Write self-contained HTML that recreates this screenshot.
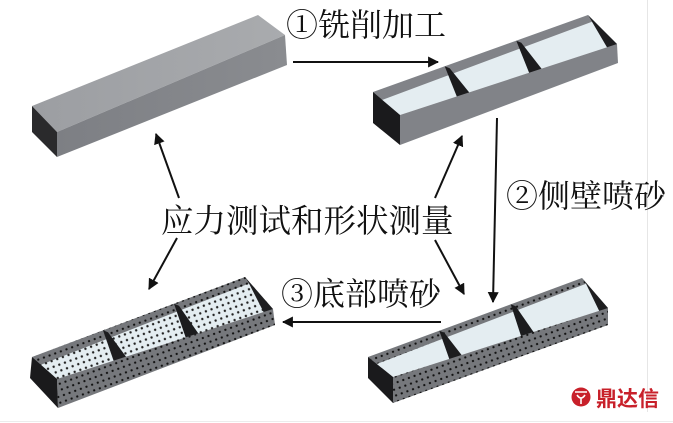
<!DOCTYPE html>
<html><head><meta charset="utf-8">
<style>
html,body{margin:0;padding:0;background:#fff;}
svg{display:block;}
text{font-family:"Liberation Serif","Noto Serif CJK SC",serif;fill:#111;}
</style></head>
<body>
<svg id="s" width="673" height="423" viewBox="0 0 673 423" xmlns="http://www.w3.org/2000/svg">
<defs>
<linearGradient id="topg" x1="0" y1="0" x2="1" y2="0">
<stop offset="0" stop-color="#9c9ea2"/><stop offset="1" stop-color="#a9abae"/></linearGradient>
<linearGradient id="frontg" x1="0" y1="0" x2="1" y2="0">
<stop offset="0" stop-color="#7d7f84"/><stop offset="1" stop-color="#8a8c90"/></linearGradient>
<pattern id="holes" width="6" height="6" patternUnits="userSpaceOnUse" patternTransform="rotate(-20)">
<circle cx="3" cy="3" r="1.15" fill="#111"/></pattern>
<pattern id="holes2" width="6" height="6" patternUnits="userSpaceOnUse" patternTransform="rotate(-20)">
<circle cx="3" cy="3" r="1.2" fill="#222"/></pattern>
<marker id="ah" viewBox="0 0 10 10" refX="9" refY="5" markerWidth="5.5" markerHeight="5.5" orient="auto">
<path d="M0,0 L10,5 L0,10 z" fill="#111"/></marker>
</defs>

<line x1="647.5" y1="0" x2="647.5" y2="412" stroke="#e6e6e6" stroke-width="1"/>
<line x1="0" y1="421.5" x2="673" y2="421.5" stroke="#ececec" stroke-width="1"/>

<polygon points="32,106 258,15 285,35 57,132" fill="url(#topg)"/>
<polygon points="57,132 285,35 287,65 57,157" fill="url(#frontg)"/>
<polygon points="32,106 57,132 57,157 32,132" fill="#2a2a2c"/>

<g id="trays"></g>

<g stroke="#111" stroke-width="2" fill="none" marker-end="url(#ah)">
<line x1="293" y1="62" x2="438" y2="62"/>
<line x1="497" y1="118" x2="493" y2="302"/>
<line x1="441" y1="322" x2="283" y2="322"/>
<line x1="179" y1="198" x2="156" y2="134"/>
<line x1="177" y1="238" x2="149" y2="289"/>
<line x1="435" y1="198" x2="462" y2="136"/>
<line x1="435" y1="240" x2="464" y2="294"/>
</g>

<text x="286" y="36" font-size="32">①铣削加工</text>
<text x="506" y="207" font-size="32">②侧壁喷砂</text>
<text x="281" y="305" font-size="32">③底部喷砂</text>
<text x="161" y="232" font-size="32.5">应力测试和形状测量</text>

<circle cx="581" cy="397" r="9.5" fill="#c8202a"/>
<path d="M575,392 h12 M577,395 q4,6 8,0 M581,398 v6" stroke="#fff" stroke-width="1.6" fill="none"/>
<text x="596" y="406" font-size="21" font-weight="bold" style="fill:#c8202a;font-family:'Noto Sans CJK SC',sans-serif">鼎达信</text>
</svg>
<script>
(function(){
var NS="http://www.w3.org/2000/svg",g=document.getElementById("trays");
function P(pts){return pts.map(function(p){return p[0].toFixed(1)+","+p[1].toFixed(1)}).join(" ");}
function poly(pts,fill){var e=document.createElementNS(NS,"polygon");e.setAttribute("points",P(pts));e.setAttribute("fill",fill);g.appendChild(e);return e;}
function L(a,b,t){return [a[0]+(b[0]-a[0])*t,a[1]+(b[1]-a[1])*t];}
function add(a,d){return [a[0]+d[0],a[1]+d[1]];}
function tray(t,perf,floorPerf,wall){
 var BLT=t.BLT,FLT=t.FLT,FLB=t.FLB,BLB=t.BLB,BRT=t.BRT,FRT=t.FRT,FRB=t.FRB;
 var ih=0.28*(FLB[1]-FLT[1]);
 poly([BLT,BRT,FRT,FLT],"#e4edf1");
 if(floorPerf) poly([BLT,BRT,FRT,FLT],"url(#holes2)");
 var bw=[BLT,BRT,add(BRT,[4,ih*0.8]),add(BLT,[8,ih])];
 poly(bw,wall); if(perf) poly(bw,"url(#holes)");
 poly([BRT,FRT,add(FRT,[-6,ih*1.2]),add(BRT,[4,ih*0.8])],"#1e1e20");
 poly([BLT,FLT,add(FLT,[0,ih]),add(BLT,[8,ih])],wall);
 [1/3,2/3].forEach(function(s){
  var b=L(BLT,BRT,s),f=L(FLT,FRT,s);
  poly([b,add(b,[5,2]),add(f,[0,5]),add(f,[-14,9])],"#1c1c1e");
 });
 var fw=[FLT,FRT,FRB,FLB];
 poly(fw,wall); if(perf) poly(fw,"url(#holes)");
 poly([BLT,FLT,FLB,BLB],"#1a1a1c");
}
tray({BLT:[373,92],FLT:[400,115],FLB:[400,145],BLB:[373,123],BRT:[588,15],FRT:[617,44],FRB:[618,63]},false,false,"#818388");
tray({BLT:[368,357],FLT:[393,377],FLB:[393,403],BLB:[368,378],BRT:[582,278],FRT:[608,308],FRB:[608,325]},true,false,"#76787c");
tray({BLT:[32,357],FLT:[57,379],FLB:[58,408],BLB:[30,378],BRT:[245,277],FRT:[273,309],FRB:[275,325]},true,true,"#76787c");
})();
</script>
</body></html>
